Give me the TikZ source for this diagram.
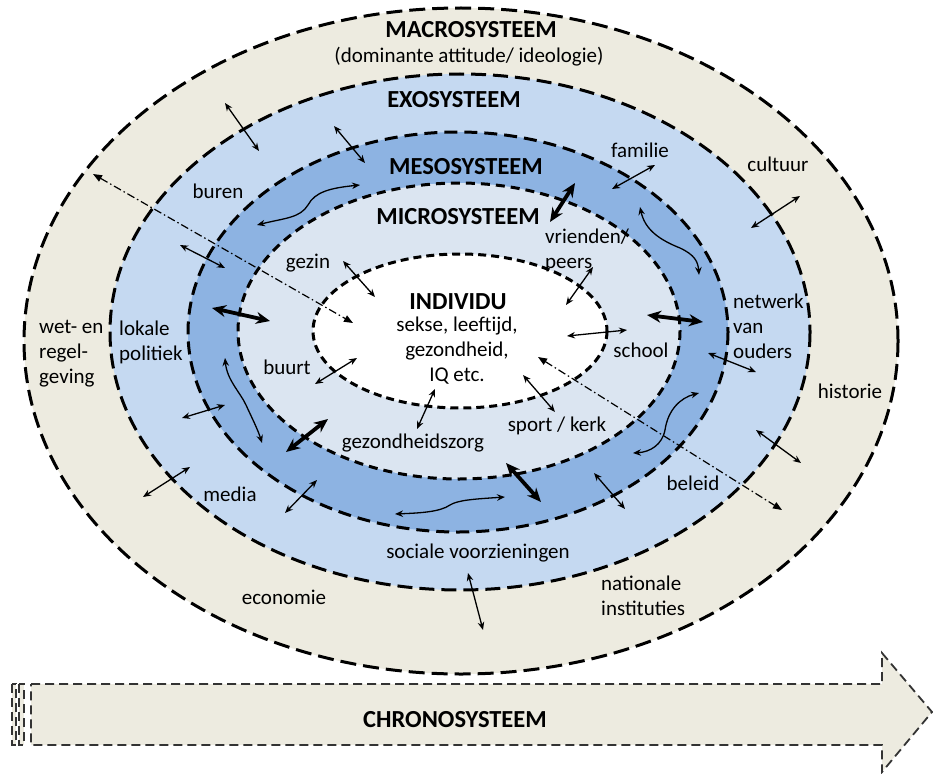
\documentclass[tikz,border=0pt]{standalone}
\usepackage{fontspec}
\setmainfont{Carlito}
\usetikzlibrary{arrows.meta}
\definecolor{beige}{RGB}{237,235,224}
\definecolor{exoblue}{RGB}{197,217,241}
\definecolor{mesoblue}{RGB}{141,179,226}
\definecolor{microblue}{RGB}{219,229,241}
\tikzset{
  lbl/.style={font=\fontsize{21}{25}\selectfont, inner sep=0pt},
  hdr/.style={font=\fontsize{24.5}{29}\selectfont\bfseries, inner sep=0pt},
  ring/.style={line width=3pt},
  thinarr/.style={{Stealth[length=8pt,width=6.5pt]}-{Stealth[length=8pt,width=6.5pt]}, line width=1.3pt},
  thickarr/.style={{Stealth[length=14pt,width=12pt]}-{Stealth[length=14pt,width=12pt]}, line width=3.8pt},
  dashdotarr/.style={dash pattern=on 8pt off 3pt on 1.5pt off 3pt, line width=1.2pt, {Triangle[length=9pt,width=7pt]}-{Triangle[length=9pt,width=7pt]}},
  chronoline/.style={line width=1.8pt, dash pattern=on 9pt off 5pt, draw=black!80, fill=beige},
}
\begin{document}
\begin{tikzpicture}[x=1pt,y=-1pt]
\useasboundingbox (0,0) rectangle (933,773);
% --- filled layers ---
\fill[beige] (461,341) ellipse [x radius=437, y radius=333];
\fill[exoblue] (460,332) ellipse [x radius=350, y radius=258];
\fill[mesoblue] (458,332) ellipse [x radius=270, y radius=200];
\fill[microblue] (459,331) ellipse [x radius=221, y radius=148];
\fill[white] (460,331) ellipse [x radius=147, y radius=77];
% --- dashed borders ---
\draw[ring, dash pattern=on 16pt off 7pt] (461,341) ellipse [x radius=437, y radius=333];
\draw[ring, dash pattern=on 15pt off 7pt] (460,332) ellipse [x radius=350, y radius=258];
\draw[ring, dash pattern=on 13pt off 7pt] (458,332) ellipse [x radius=270, y radius=200];
\draw[ring, dash pattern=on 9pt off 6pt] (459,331) ellipse [x radius=221, y radius=148];
\draw[ring, dash pattern=on 8pt off 5pt] (460,331) ellipse [x radius=147, y radius=77];
% --- chronosysteem arrow ---
\draw[chronoline] (12,684) rectangle (16,745);
\draw[chronoline] (19,684) rectangle (24,745);
\draw[chronoline] (31,684) -- (882,684) -- (882,653) -- (932,712) -- (882,772) -- (882,745) -- (31,745) -- cycle;
\node[hdr] (chrono) at (455,720) {CHRONOSYSTEEM};
% --- headings ---
\node[hdr] (macro) at (471,30) {MACROSYSTEEM};
\node[lbl] (macrosub) at (469,57) {(dominante attitude/ ideologie)};
\node[hdr] (exo) at (454,100) {EXOSYSTEEM};
\node[hdr] (meso) at (466,167) {MESOSYSTEEM};
\node[hdr] (micro) at (458,217) {MICROSYSTEEM};
\node[hdr] (indiv) at (458,302) {INDIVIDU};
\node[lbl, align=center] (indivtxt) at (457,351) {sekse, leeftijd,\\gezondheid,\\IQ etc.};
% --- labels ---
\node[lbl] (gezin) at (308,263) {gezin};
\node[lbl] (buren) at (218,191) {buren};
\node[lbl, align=left, anchor=west] (vrienden) at (545,250) {vrienden/\\peers};
\node[lbl] (familie) at (640,150) {familie};
\node[lbl] (cultuur) at (778,164) {cultuur};
\node[lbl, align=left, anchor=west] (lokale) at (119,342) {lokale\\politiek};
\node[lbl, align=left, anchor=west] (wet) at (39,354) {wet- en\\regel-\\geving};
\node[lbl] (buurt) at (287,367) {buurt};
\node[lbl, align=left, anchor=west] (netwerk) at (733,326) {netwerk\\van\\ouders};
\node[lbl] (school) at (641,350) {school};
\node[lbl] (historie) at (850,391) {historie};
\node[lbl] (zorg) at (413,443) {gezondheidszorg};
\node[lbl] (sport) at (557,426) {sport / kerk};
\node[lbl] (sociale) at (478,553) {sociale voorzieningen};
\node[lbl] (economie) at (284,597) {economie};
\node[lbl, align=left, anchor=west] (nationale) at (601,596) {nationale\\instituties};
\node[lbl] (media) at (230,494) {media};
\node[lbl] (beleid) at (693,483) {beleid};
% --- thin straight arrows ---
\foreach \n/\xa/\ya/\xb/\yb in {
  1/225/103/259/151, 2/334/126/365/163, 3/655/165/612/189, 4/800/196/751/228,
  5/180/245/225/268, 6/343/261/375/297, 7/593/267/566/305, 8/567/336/627/330,
  9/708/353/756/372, 10/357/358/315/384, 11/225/405/182/418, 12/435/389/417/429,
  13/523/375/555/412, 14/594/473/625/509, 15/190/467/143/497, 16/317/480/285/513,
  17/468/573/483/630, 18/756/430/801/463}
{
  \coordinate (t\n s) at (\xa,\ya);
  \coordinate (t\n e) at (\xb,\yb);
  \draw[thinarr] (t\n s) -- (t\n e);
}
% --- thick arrows ---
\foreach \n/\xa/\ya/\xb/\yb in {
  1/212/308/270/321, 2/575/183/550/222, 3/647/315/703/322,
  4/328/419/286/452, 5/506/463/541/502}
{
  \coordinate (k\n s) at (\xa,\ya);
  \coordinate (k\n e) at (\xb,\yb);
  \draw[thickarr] (k\n s) -- (k\n e);
}
% --- wavy arrows ---
\coordinate (w1s) at (257,225); \coordinate (w1e) at (360,185);
\draw[thinarr] (w1s) .. controls (285,218) and (300,218) .. (308,205) .. controls (315,192) and (330,188) .. (w1e);
\coordinate (w2s) at (640,207); \coordinate (w2e) at (699,275);
\draw[thinarr] (w2s) .. controls (645,230) and (660,240) .. (680,248) .. controls (695,255) and (698,262) .. (w2e);
\coordinate (w3s) at (225,358); \coordinate (w3e) at (262,443);
\draw[thinarr] (w3s) .. controls (227,380) and (240,392) .. (246,405) .. controls (252,418) and (258,430) .. (w3e);
\coordinate (w4s) at (395,514); \coordinate (w4e) at (505,497);
\draw[thinarr] (w4s) .. controls (420,513) and (440,512) .. (450,505) .. controls (458,500) and (475,499) .. (w4e);
\coordinate (w5s) at (699,393); \coordinate (w5e) at (633,453);
\draw[thinarr] (w5s) .. controls (680,398) and (668,410) .. (665,430) .. controls (662,445) and (650,452) .. (w5e);
% --- dash-dot arrows ---
\coordinate (d1s) at (93,174); \coordinate (d1e) at (353,323);
\draw[dashdotarr] (d1s) -- (d1e);
\coordinate (d2s) at (538,357); \coordinate (d2e) at (782,510);
\draw[dashdotarr] (d2s) -- (d2e);
\end{tikzpicture}
\end{document}
